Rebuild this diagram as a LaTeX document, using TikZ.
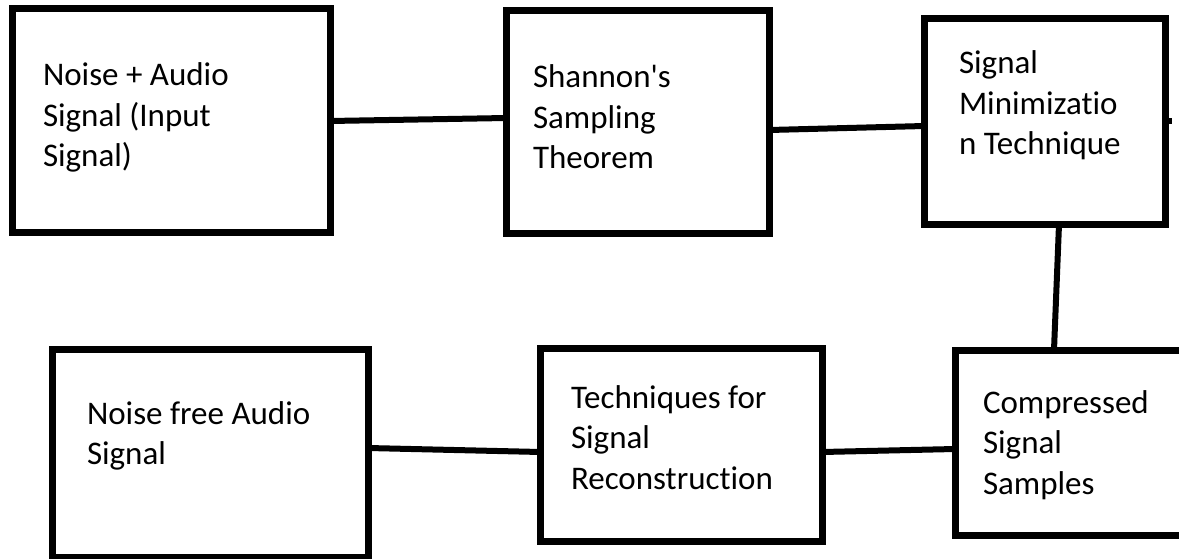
\documentclass[tikz,border=0pt]{standalone}
\usepackage{fontspec}
\setmainfont{Carlito}[Ligatures={TeX,NoCommon}]
\begin{document}
\begin{tikzpicture}[x=1pt,y=-1pt,
  blk/.style={draw=black, line width=7pt, inner sep=0pt, outer sep=0pt, rectangle},
  conn/.style={draw=black, line width=6pt},
  lbl/.style={anchor=base west, inner sep=0pt, outer sep=0pt, text=black, font=\fontsize{33}{40.5}\selectfont}]
\path[use as bounding box, fill=white] (0,0) rectangle (1179,559);
\clip (0,0) rectangle (1179,559);
% boxes
\node[blk, minimum width=318pt, minimum height=223pt] (b1) at (171,120.5) {};
\node[blk, minimum width=263pt, minimum height=222.5pt] (b2) at (638,122.25) {};
\node[blk, minimum width=241pt, minimum height=206pt] (b3) at (1045,121.5) {};
\node[blk, minimum width=235pt, minimum height=185.5pt] (b4) at (1072.5,442.75) {};
\node[blk, minimum width=282pt, minimum height=192.5pt] (b5) at (681.5,444.75) {};
\node[blk, minimum width=315.5pt, minimum height=207.5pt] (b6) at (210.25,453.25) {};
% labels
\node[lbl] (t1) at (43,86) {\begin{tabular}[t]{@{}l@{}}Noise + Audio\\Signal (Input\\Signal)\end{tabular}};
\node[lbl] (t2) at (533,88) {\begin{tabular}[t]{@{}l@{}}Shannon\textquotesingle s\\Sampling\\Theorem\end{tabular}};
\node[lbl] (t3) at (959,74) {\begin{tabular}[t]{@{}l@{}}Signal\\Minimizatio\\n Technique\end{tabular}};
\node[lbl] (t4) at (983,413) {\begin{tabular}[t]{@{}l@{}}Compressed\\Signal\\Samples\end{tabular}};
\node[lbl] (t5) at (571,408) {\begin{tabular}[t]{@{}l@{}}Techniques for\\Signal\\Reconstruction\end{tabular}};
\node[lbl] (t6) at (87,424) {\begin{tabular}[t]{@{}l@{}}Noise free Audio\\Signal\end{tabular}};
% connectors
\draw[conn] ([yshift=-0.5pt]b1.east) -- ([yshift=4.25pt]b2.west);
\draw[conn] ([yshift=-7.75pt]b2.east) -- ([yshift=-4.5pt]b3.west);
\draw[conn] ([xshift=14pt]b3.south) -- ([xshift=-18.5pt]b4.north);
\draw[conn] ([yshift=-6.25pt]b4.west) -- ([yshift=-7.25pt]b5.east);
\draw[conn] ([yshift=-7.25pt]b5.west) -- ([yshift=5.25pt]b6.east);
\coordinate (stub) at ([xshift=6pt,yshift=0.5pt]b3.east);
\draw[conn] ([yshift=0.5pt]b3.east) -- (stub);
\end{tikzpicture}
\end{document}
